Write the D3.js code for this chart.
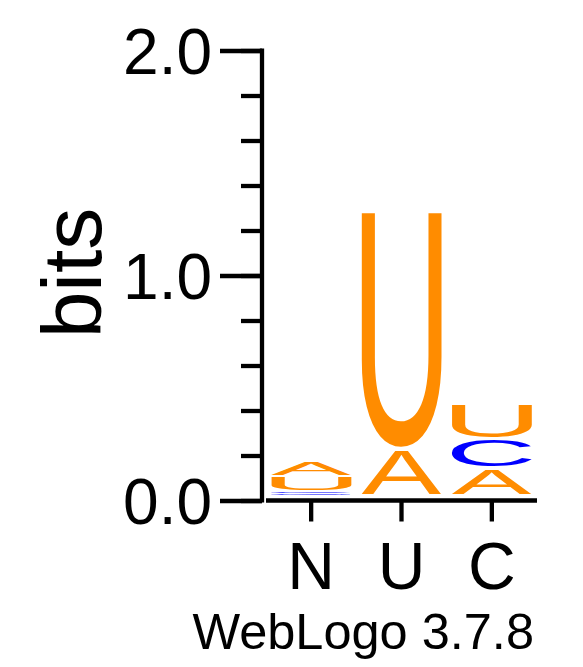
<!DOCTYPE html>
<html><head><meta charset="utf-8">
<script src="https://cdn.jsdelivr.net/npm/d3@7"></script>
<style>body{margin:0;background:#fff}svg{display:block}</style>
</head><body>
<script>
// ---- data ----
const positions = ["N", "U", "C"];
const letters = ["A", "C", "G", "U"];
const heightsA = [0.071, 0.210, 0.121];
const heightsC = [0.010, 0.000, 0.129];
const heightsG = [0.008, 0.000, 0.000];
const heightsU = [0.068, 1.054, 0.159];
const majorTicks = [0, 1, 2];
const minorTicks = [0, 0.2, 0.4, 0.6, 0.8, 1.0, 1.2, 1.4, 1.6, 1.8, 2.0];
const yLabel = "bits";
const footer = "WebLogo 3.7.8";
const colors = {A: "#FF8C00", U: "#FF8C00", T: "#FF8C00", C: "#0000FF", G: "#0000FF"};

const W = 583, H = 667;
const FONT = '"Liberation Sans", Arial, Helvetica, sans-serif';
const svg = d3.select("body").append("svg").attr("width", W).attr("height", H);

const y = d3.scaleLinear().domain([0, 2]).range([500.5, 50.5]);
const x = d3.scaleBand().domain(positions).range([266, 537]);
const glyphW = 80;
const yg = v => y(v) - 5;

// measure ink bounds of glyphs
const cv = document.createElement("canvas");
const ctx = cv.getContext("2d");
const FS = 200;
ctx.font = `${FS}px "Liberation Sans"`;
function drawGlyph(letter, x0, y0, w, h, color) {
  const m = ctx.measureText(letter);
  const left = -m.actualBoundingBoxLeft, right = m.actualBoundingBoxRight;
  const top = -m.actualBoundingBoxAscent, bottom = m.actualBoundingBoxDescent;
  const sx = w / (right - left), sy = h / (bottom - top);
  svg.append("text")
    .attr("transform", `translate(${x0},${y0}) scale(${sx},${sy}) translate(${-left},${-top})`)
    .attr("font-family", FONT).attr("font-size", FS)
    .attr("fill", color).text(letter);
}

const table = {A: heightsA, C: heightsC, G: heightsG, U: heightsU};
positions.forEach((p, i) => {
  const stack = letters.map(l => ({l, h: table[l][i]})).filter(d => d.h > 0)
    .sort((a, b) => a.h - b.h);
  let cum = 0;
  const cx = x(p) + x.bandwidth() / 2;
  stack.forEach(d => {
    const bTop = yg(cum + d.h), bBot = yg(cum);
    const boxH = bBot - bTop;
    const pad = Math.min(1.5, boxH * 0.3);
    drawGlyph(d.l, cx - glyphW / 2, bTop + pad, glyphW, boxH - 2 * pad, colors[d.l]);
    cum += d.h;
  });
});

// ---- y axis ----
const axisX = 262;
const gMinor = svg.append("g").attr("transform", `translate(${axisX},0)`)
  .call(d3.axisLeft(y).tickValues(minorTicks).tickSize(21).tickFormat(""));
const gMajor = svg.append("g").attr("transform", `translate(${axisX},0)`)
  .call(d3.axisLeft(y).tickValues(majorTicks).tickSize(42).tickPadding(8).tickFormat(d3.format(".1f")));
[gMinor, gMajor].forEach(g => {
  g.select(".domain").remove();
  g.selectAll(".tick line").attr("stroke", "#000").attr("stroke-width", 4.3);
});
gMajor.selectAll(".tick text").attr("font-family", FONT).attr("font-size", 64)
  .attr("fill", "#000").attr("dy", "0.36em");
svg.append("line").attr("x1", axisX).attr("x2", axisX)
  .attr("y1", y(2) - 2.1).attr("y2", y(0) + 2.1)
  .attr("stroke", "#000").attr("stroke-width", 4.3);

// ---- x axis ----
const gx = svg.append("g").attr("transform", `translate(0,${y(0)})`)
  .call(d3.axisBottom(x).tickSize(21).tickPadding(0));
gx.select(".domain").remove();
gx.selectAll(".tick line").attr("stroke", "#000").attr("stroke-width", 4.3);
gx.selectAll(".tick text").attr("font-family", FONT).attr("font-size", 66)
  .attr("fill", "#000").attr("y", 88).attr("dy", 0);
svg.append("line").attr("x1", 266).attr("x2", 537)
  .attr("y1", y(0)).attr("y2", y(0)).attr("stroke", "#000").attr("stroke-width", 4.3);

// ---- y label ----
svg.append("text").attr("transform", `translate(101,273) rotate(-90)`)
  .attr("text-anchor", "middle").attr("font-family", FONT).attr("font-size", 84)
  .attr("fill", "#000").text(yLabel);

// ---- footer ----
svg.append("text").attr("x", 534).attr("y", 649).attr("text-anchor", "end")
  .attr("font-family", FONT).attr("font-size", 50.5).attr("fill", "#000").text(footer);
</script>
</body></html>
